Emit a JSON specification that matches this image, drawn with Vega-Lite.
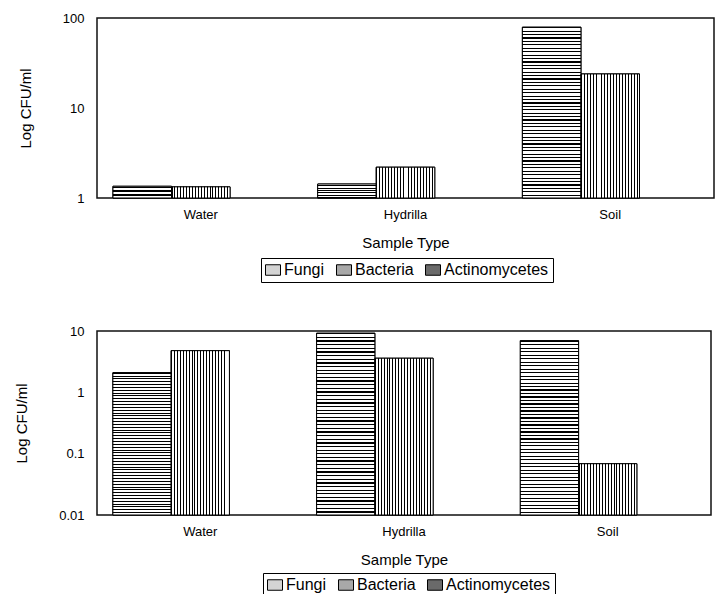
{
  "$schema": "https://vega.github.io/schema/vega-lite/v6.json",
  "padding": {"top": 11, "left": 13, "right": 0, "bottom": 0},
  "background": "white",
  "spacing": 40,
  "datasets": {
    "top": [
      {"Sample": "Water", "Type": "Fungi", "Value": 1.35},
      {"Sample": "Water", "Type": "Bacteria", "Value": 1.33},
      {"Sample": "Hydrilla", "Type": "Fungi", "Value": 1.43},
      {"Sample": "Hydrilla", "Type": "Bacteria", "Value": 2.2},
      {"Sample": "Soil", "Type": "Fungi", "Value": 79},
      {"Sample": "Soil", "Type": "Bacteria", "Value": 23.9}
    ],
    "bottom": [
      {"Sample": "Water", "Type": "Fungi", "Value": 2.09},
      {"Sample": "Water", "Type": "Bacteria", "Value": 4.78},
      {"Sample": "Hydrilla", "Type": "Fungi", "Value": 9.2},
      {"Sample": "Hydrilla", "Type": "Bacteria", "Value": 3.6},
      {"Sample": "Soil", "Type": "Fungi", "Value": 6.95},
      {"Sample": "Soil", "Type": "Bacteria", "Value": 0.0686}
    ]
  },
  "vconcat": [
    {
      "data": {"name": "top"},
      "width": 617,
      "height": 180,
      "encoding": {
        "x": {"field": "Sample", "type": "nominal", "sort": ["Water", "Hydrilla", "Soil"], "scale": {"domain": ["Water", "Hydrilla", "Soil"], "paddingInner": 0.142, "paddingOuter": 0.078}, "axis": {"title": "Sample Type"}},
        "xOffset": {"field": "Type", "type": "nominal", "scale": {"domain": ["Fungi", "Bacteria", "Actinomycetes"], "paddingInner": 0, "paddingOuter": 0}},
        "y": {"field": "Value", "type": "quantitative", "scale": {"type": "log", "domain": [1, 100], "nice": false}, "axis": {"title": "Log CFU/ml", "values": [1, 10, 100], "format": "~g"}},
        "y2": {"datum": 1}
      },
      "layer": [
        {
          "mark": {"type": "bar", "stroke": "#000", "strokeWidth": 1},
          "encoding": {
            "fill": {"field": "Type", "type": "nominal", "scale": {"domain": ["Fungi", "Bacteria", "Actinomycetes"], "range": ["#d4d4d4", "#a8a8a8", "#6a6a6a"]},
              "legend": {"orient": "none", "legendX": 164, "legendY": 240, "direction": "horizontal", "title": null, "symbolStrokeColor": "#000", "symbolStrokeWidth": 1}}
          }
        },
        {
          "transform": [{"filter": "datum.Type === 'Fungi'"}],
          "mark": {"type": "bar", "stroke": "#000", "strokeWidth": 1, "fill": {"gradient": "linear", "x1": 0, "y1": 0, "x2": 0, "y2": 1, "stops": [
{"offset":0,"color":"#000"},{"offset":0.007,"color":"#000"},{"offset":0.007,"color":"#fff"},{"offset":0.02,"color":"#fff"},
{"offset":0.02,"color":"#000"},{"offset":0.027,"color":"#000"},{"offset":0.027,"color":"#fff"},{"offset":0.04,"color":"#fff"},
{"offset":0.04,"color":"#000"},{"offset":0.047,"color":"#000"},{"offset":0.047,"color":"#fff"},{"offset":0.06,"color":"#fff"},
{"offset":0.06,"color":"#000"},{"offset":0.067,"color":"#000"},{"offset":0.067,"color":"#fff"},{"offset":0.08,"color":"#fff"},
{"offset":0.08,"color":"#000"},{"offset":0.087,"color":"#000"},{"offset":0.087,"color":"#fff"},{"offset":0.1,"color":"#fff"},
{"offset":0.1,"color":"#000"},{"offset":0.107,"color":"#000"},{"offset":0.107,"color":"#fff"},{"offset":0.12,"color":"#fff"},
{"offset":0.12,"color":"#000"},{"offset":0.127,"color":"#000"},{"offset":0.127,"color":"#fff"},{"offset":0.14,"color":"#fff"},
{"offset":0.14,"color":"#000"},{"offset":0.147,"color":"#000"},{"offset":0.147,"color":"#fff"},{"offset":0.16,"color":"#fff"},
{"offset":0.16,"color":"#000"},{"offset":0.167,"color":"#000"},{"offset":0.167,"color":"#fff"},{"offset":0.18,"color":"#fff"},
{"offset":0.18,"color":"#000"},{"offset":0.187,"color":"#000"},{"offset":0.187,"color":"#fff"},{"offset":0.2,"color":"#fff"},
{"offset":0.2,"color":"#000"},{"offset":0.207,"color":"#000"},{"offset":0.207,"color":"#fff"},{"offset":0.22,"color":"#fff"},
{"offset":0.22,"color":"#000"},{"offset":0.227,"color":"#000"},{"offset":0.227,"color":"#fff"},{"offset":0.24,"color":"#fff"},
{"offset":0.24,"color":"#000"},{"offset":0.247,"color":"#000"},{"offset":0.247,"color":"#fff"},{"offset":0.26,"color":"#fff"},
{"offset":0.26,"color":"#000"},{"offset":0.267,"color":"#000"},{"offset":0.267,"color":"#fff"},{"offset":0.28,"color":"#fff"},
{"offset":0.28,"color":"#000"},{"offset":0.287,"color":"#000"},{"offset":0.287,"color":"#fff"},{"offset":0.3,"color":"#fff"},
{"offset":0.3,"color":"#000"},{"offset":0.307,"color":"#000"},{"offset":0.307,"color":"#fff"},{"offset":0.32,"color":"#fff"},
{"offset":0.32,"color":"#000"},{"offset":0.327,"color":"#000"},{"offset":0.327,"color":"#fff"},{"offset":0.34,"color":"#fff"},
{"offset":0.34,"color":"#000"},{"offset":0.347,"color":"#000"},{"offset":0.347,"color":"#fff"},{"offset":0.36,"color":"#fff"},
{"offset":0.36,"color":"#000"},{"offset":0.367,"color":"#000"},{"offset":0.367,"color":"#fff"},{"offset":0.38,"color":"#fff"},
{"offset":0.38,"color":"#000"},{"offset":0.387,"color":"#000"},{"offset":0.387,"color":"#fff"},{"offset":0.4,"color":"#fff"},
{"offset":0.4,"color":"#000"},{"offset":0.407,"color":"#000"},{"offset":0.407,"color":"#fff"},{"offset":0.42,"color":"#fff"},
{"offset":0.42,"color":"#000"},{"offset":0.427,"color":"#000"},{"offset":0.427,"color":"#fff"},{"offset":0.44,"color":"#fff"},
{"offset":0.44,"color":"#000"},{"offset":0.447,"color":"#000"},{"offset":0.447,"color":"#fff"},{"offset":0.46,"color":"#fff"},
{"offset":0.46,"color":"#000"},{"offset":0.467,"color":"#000"},{"offset":0.467,"color":"#fff"},{"offset":0.48,"color":"#fff"},
{"offset":0.48,"color":"#000"},{"offset":0.487,"color":"#000"},{"offset":0.487,"color":"#fff"},{"offset":0.5,"color":"#fff"},
{"offset":0.5,"color":"#000"},{"offset":0.507,"color":"#000"},{"offset":0.507,"color":"#fff"},{"offset":0.52,"color":"#fff"},
{"offset":0.52,"color":"#000"},{"offset":0.527,"color":"#000"},{"offset":0.527,"color":"#fff"},{"offset":0.54,"color":"#fff"},
{"offset":0.54,"color":"#000"},{"offset":0.547,"color":"#000"},{"offset":0.547,"color":"#fff"},{"offset":0.56,"color":"#fff"},
{"offset":0.56,"color":"#000"},{"offset":0.567,"color":"#000"},{"offset":0.567,"color":"#fff"},{"offset":0.58,"color":"#fff"},
{"offset":0.58,"color":"#000"},{"offset":0.587,"color":"#000"},{"offset":0.587,"color":"#fff"},{"offset":0.6,"color":"#fff"},
{"offset":0.6,"color":"#000"},{"offset":0.607,"color":"#000"},{"offset":0.607,"color":"#fff"},{"offset":0.62,"color":"#fff"},
{"offset":0.62,"color":"#000"},{"offset":0.627,"color":"#000"},{"offset":0.627,"color":"#fff"},{"offset":0.64,"color":"#fff"},
{"offset":0.64,"color":"#000"},{"offset":0.647,"color":"#000"},{"offset":0.647,"color":"#fff"},{"offset":0.66,"color":"#fff"},
{"offset":0.66,"color":"#000"},{"offset":0.667,"color":"#000"},{"offset":0.667,"color":"#fff"},{"offset":0.68,"color":"#fff"},
{"offset":0.68,"color":"#000"},{"offset":0.687,"color":"#000"},{"offset":0.687,"color":"#fff"},{"offset":0.7,"color":"#fff"},
{"offset":0.7,"color":"#000"},{"offset":0.707,"color":"#000"},{"offset":0.707,"color":"#fff"},{"offset":0.72,"color":"#fff"},
{"offset":0.72,"color":"#000"},{"offset":0.727,"color":"#000"},{"offset":0.727,"color":"#fff"},{"offset":0.74,"color":"#fff"},
{"offset":0.74,"color":"#000"},{"offset":0.747,"color":"#000"},{"offset":0.747,"color":"#fff"},{"offset":0.76,"color":"#fff"},
{"offset":0.76,"color":"#000"},{"offset":0.767,"color":"#000"},{"offset":0.767,"color":"#fff"},{"offset":0.78,"color":"#fff"},
{"offset":0.78,"color":"#000"},{"offset":0.787,"color":"#000"},{"offset":0.787,"color":"#fff"},{"offset":0.8,"color":"#fff"},
{"offset":0.8,"color":"#000"},{"offset":0.807,"color":"#000"},{"offset":0.807,"color":"#fff"},{"offset":0.82,"color":"#fff"},
{"offset":0.82,"color":"#000"},{"offset":0.827,"color":"#000"},{"offset":0.827,"color":"#fff"},{"offset":0.84,"color":"#fff"},
{"offset":0.84,"color":"#000"},{"offset":0.847,"color":"#000"},{"offset":0.847,"color":"#fff"},{"offset":0.86,"color":"#fff"},
{"offset":0.86,"color":"#000"},{"offset":0.867,"color":"#000"},{"offset":0.867,"color":"#fff"},{"offset":0.88,"color":"#fff"},
{"offset":0.88,"color":"#000"},{"offset":0.887,"color":"#000"},{"offset":0.887,"color":"#fff"},{"offset":0.9,"color":"#fff"},
{"offset":0.9,"color":"#000"},{"offset":0.907,"color":"#000"},{"offset":0.907,"color":"#fff"},{"offset":0.92,"color":"#fff"},
{"offset":0.92,"color":"#000"},{"offset":0.927,"color":"#000"},{"offset":0.927,"color":"#fff"},{"offset":0.94,"color":"#fff"},
{"offset":0.94,"color":"#000"},{"offset":0.947,"color":"#000"},{"offset":0.947,"color":"#fff"},{"offset":0.96,"color":"#fff"},
{"offset":0.96,"color":"#000"},{"offset":0.967,"color":"#000"},{"offset":0.967,"color":"#fff"},{"offset":0.98,"color":"#fff"},
{"offset":0.98,"color":"#000"},{"offset":0.987,"color":"#000"},{"offset":0.987,"color":"#fff"},{"offset":1,"color":"#fff"}
          ]}}
        },
        {
          "transform": [{"filter": "datum.Type === 'Bacteria'"}],
          "mark": {"type": "bar", "stroke": "#000", "strokeWidth": 1, "fill": {"gradient": "linear", "x1": 0, "y1": 0, "x2": 1, "y2": 0, "stops": [
{"offset":0,"color":"#000"},{"offset":0.017,"color":"#000"},{"offset":0.017,"color":"#fff"},{"offset":0.05,"color":"#fff"},
{"offset":0.05,"color":"#000"},{"offset":0.067,"color":"#000"},{"offset":0.067,"color":"#fff"},{"offset":0.1,"color":"#fff"},
{"offset":0.1,"color":"#000"},{"offset":0.117,"color":"#000"},{"offset":0.117,"color":"#fff"},{"offset":0.15,"color":"#fff"},
{"offset":0.15,"color":"#000"},{"offset":0.167,"color":"#000"},{"offset":0.167,"color":"#fff"},{"offset":0.2,"color":"#fff"},
{"offset":0.2,"color":"#000"},{"offset":0.217,"color":"#000"},{"offset":0.217,"color":"#fff"},{"offset":0.25,"color":"#fff"},
{"offset":0.25,"color":"#000"},{"offset":0.267,"color":"#000"},{"offset":0.267,"color":"#fff"},{"offset":0.3,"color":"#fff"},
{"offset":0.3,"color":"#000"},{"offset":0.317,"color":"#000"},{"offset":0.317,"color":"#fff"},{"offset":0.35,"color":"#fff"},
{"offset":0.35,"color":"#000"},{"offset":0.367,"color":"#000"},{"offset":0.367,"color":"#fff"},{"offset":0.4,"color":"#fff"},
{"offset":0.4,"color":"#000"},{"offset":0.417,"color":"#000"},{"offset":0.417,"color":"#fff"},{"offset":0.45,"color":"#fff"},
{"offset":0.45,"color":"#000"},{"offset":0.467,"color":"#000"},{"offset":0.467,"color":"#fff"},{"offset":0.5,"color":"#fff"},
{"offset":0.5,"color":"#000"},{"offset":0.517,"color":"#000"},{"offset":0.517,"color":"#fff"},{"offset":0.55,"color":"#fff"},
{"offset":0.55,"color":"#000"},{"offset":0.567,"color":"#000"},{"offset":0.567,"color":"#fff"},{"offset":0.6,"color":"#fff"},
{"offset":0.6,"color":"#000"},{"offset":0.617,"color":"#000"},{"offset":0.617,"color":"#fff"},{"offset":0.65,"color":"#fff"},
{"offset":0.65,"color":"#000"},{"offset":0.667,"color":"#000"},{"offset":0.667,"color":"#fff"},{"offset":0.7,"color":"#fff"},
{"offset":0.7,"color":"#000"},{"offset":0.717,"color":"#000"},{"offset":0.717,"color":"#fff"},{"offset":0.75,"color":"#fff"},
{"offset":0.75,"color":"#000"},{"offset":0.767,"color":"#000"},{"offset":0.767,"color":"#fff"},{"offset":0.8,"color":"#fff"},
{"offset":0.8,"color":"#000"},{"offset":0.817,"color":"#000"},{"offset":0.817,"color":"#fff"},{"offset":0.85,"color":"#fff"},
{"offset":0.85,"color":"#000"},{"offset":0.867,"color":"#000"},{"offset":0.867,"color":"#fff"},{"offset":0.9,"color":"#fff"},
{"offset":0.9,"color":"#000"},{"offset":0.917,"color":"#000"},{"offset":0.917,"color":"#fff"},{"offset":0.95,"color":"#fff"},
{"offset":0.95,"color":"#000"},{"offset":0.967,"color":"#000"},{"offset":0.967,"color":"#fff"},{"offset":1,"color":"#fff"}
          ]}}
        }
      ]
    },
    {
      "data": {"name": "bottom"},
      "width": 614,
      "height": 184,
      "encoding": {
        "x": {"field": "Sample", "type": "nominal", "sort": ["Water", "Hydrilla", "Soil"], "scale": {"domain": ["Water", "Hydrilla", "Soil"], "paddingInner": 0.142, "paddingOuter": 0.078}, "axis": {"title": "Sample Type"}},
        "xOffset": {"field": "Type", "type": "nominal", "scale": {"domain": ["Fungi", "Bacteria", "Actinomycetes"], "paddingInner": 0, "paddingOuter": 0}},
        "y": {"field": "Value", "type": "quantitative", "scale": {"type": "log", "domain": [0.01, 10], "nice": false}, "axis": {"title": "Log CFU/ml", "values": [0.01, 0.1, 1, 10], "format": "~g"}},
        "y2": {"datum": 0.01}
      },
      "layer": [
        {
          "mark": {"type": "bar", "stroke": "#000", "strokeWidth": 1},
          "encoding": {
            "fill": {"field": "Type", "type": "nominal", "scale": {"domain": ["Fungi", "Bacteria", "Actinomycetes"], "range": ["#d4d4d4", "#a8a8a8", "#6a6a6a"]},
              "legend": {"orient": "none", "legendX": 166, "legendY": 242, "direction": "horizontal", "title": null, "symbolStrokeColor": "#000", "symbolStrokeWidth": 1}}
          }
        },
        {
          "transform": [{"filter": "datum.Type === 'Fungi'"}],
          "mark": {"type": "bar", "stroke": "#000", "strokeWidth": 1, "fill": {"gradient": "linear", "x1": 0, "y1": 0, "x2": 0, "y2": 1, "stops": [
{"offset":0,"color":"#000"},{"offset":0.007,"color":"#000"},{"offset":0.007,"color":"#fff"},{"offset":0.02,"color":"#fff"},
{"offset":0.02,"color":"#000"},{"offset":0.027,"color":"#000"},{"offset":0.027,"color":"#fff"},{"offset":0.04,"color":"#fff"},
{"offset":0.04,"color":"#000"},{"offset":0.047,"color":"#000"},{"offset":0.047,"color":"#fff"},{"offset":0.06,"color":"#fff"},
{"offset":0.06,"color":"#000"},{"offset":0.067,"color":"#000"},{"offset":0.067,"color":"#fff"},{"offset":0.08,"color":"#fff"},
{"offset":0.08,"color":"#000"},{"offset":0.087,"color":"#000"},{"offset":0.087,"color":"#fff"},{"offset":0.1,"color":"#fff"},
{"offset":0.1,"color":"#000"},{"offset":0.107,"color":"#000"},{"offset":0.107,"color":"#fff"},{"offset":0.12,"color":"#fff"},
{"offset":0.12,"color":"#000"},{"offset":0.127,"color":"#000"},{"offset":0.127,"color":"#fff"},{"offset":0.14,"color":"#fff"},
{"offset":0.14,"color":"#000"},{"offset":0.147,"color":"#000"},{"offset":0.147,"color":"#fff"},{"offset":0.16,"color":"#fff"},
{"offset":0.16,"color":"#000"},{"offset":0.167,"color":"#000"},{"offset":0.167,"color":"#fff"},{"offset":0.18,"color":"#fff"},
{"offset":0.18,"color":"#000"},{"offset":0.187,"color":"#000"},{"offset":0.187,"color":"#fff"},{"offset":0.2,"color":"#fff"},
{"offset":0.2,"color":"#000"},{"offset":0.207,"color":"#000"},{"offset":0.207,"color":"#fff"},{"offset":0.22,"color":"#fff"},
{"offset":0.22,"color":"#000"},{"offset":0.227,"color":"#000"},{"offset":0.227,"color":"#fff"},{"offset":0.24,"color":"#fff"},
{"offset":0.24,"color":"#000"},{"offset":0.247,"color":"#000"},{"offset":0.247,"color":"#fff"},{"offset":0.26,"color":"#fff"},
{"offset":0.26,"color":"#000"},{"offset":0.267,"color":"#000"},{"offset":0.267,"color":"#fff"},{"offset":0.28,"color":"#fff"},
{"offset":0.28,"color":"#000"},{"offset":0.287,"color":"#000"},{"offset":0.287,"color":"#fff"},{"offset":0.3,"color":"#fff"},
{"offset":0.3,"color":"#000"},{"offset":0.307,"color":"#000"},{"offset":0.307,"color":"#fff"},{"offset":0.32,"color":"#fff"},
{"offset":0.32,"color":"#000"},{"offset":0.327,"color":"#000"},{"offset":0.327,"color":"#fff"},{"offset":0.34,"color":"#fff"},
{"offset":0.34,"color":"#000"},{"offset":0.347,"color":"#000"},{"offset":0.347,"color":"#fff"},{"offset":0.36,"color":"#fff"},
{"offset":0.36,"color":"#000"},{"offset":0.367,"color":"#000"},{"offset":0.367,"color":"#fff"},{"offset":0.38,"color":"#fff"},
{"offset":0.38,"color":"#000"},{"offset":0.387,"color":"#000"},{"offset":0.387,"color":"#fff"},{"offset":0.4,"color":"#fff"},
{"offset":0.4,"color":"#000"},{"offset":0.407,"color":"#000"},{"offset":0.407,"color":"#fff"},{"offset":0.42,"color":"#fff"},
{"offset":0.42,"color":"#000"},{"offset":0.427,"color":"#000"},{"offset":0.427,"color":"#fff"},{"offset":0.44,"color":"#fff"},
{"offset":0.44,"color":"#000"},{"offset":0.447,"color":"#000"},{"offset":0.447,"color":"#fff"},{"offset":0.46,"color":"#fff"},
{"offset":0.46,"color":"#000"},{"offset":0.467,"color":"#000"},{"offset":0.467,"color":"#fff"},{"offset":0.48,"color":"#fff"},
{"offset":0.48,"color":"#000"},{"offset":0.487,"color":"#000"},{"offset":0.487,"color":"#fff"},{"offset":0.5,"color":"#fff"},
{"offset":0.5,"color":"#000"},{"offset":0.507,"color":"#000"},{"offset":0.507,"color":"#fff"},{"offset":0.52,"color":"#fff"},
{"offset":0.52,"color":"#000"},{"offset":0.527,"color":"#000"},{"offset":0.527,"color":"#fff"},{"offset":0.54,"color":"#fff"},
{"offset":0.54,"color":"#000"},{"offset":0.547,"color":"#000"},{"offset":0.547,"color":"#fff"},{"offset":0.56,"color":"#fff"},
{"offset":0.56,"color":"#000"},{"offset":0.567,"color":"#000"},{"offset":0.567,"color":"#fff"},{"offset":0.58,"color":"#fff"},
{"offset":0.58,"color":"#000"},{"offset":0.587,"color":"#000"},{"offset":0.587,"color":"#fff"},{"offset":0.6,"color":"#fff"},
{"offset":0.6,"color":"#000"},{"offset":0.607,"color":"#000"},{"offset":0.607,"color":"#fff"},{"offset":0.62,"color":"#fff"},
{"offset":0.62,"color":"#000"},{"offset":0.627,"color":"#000"},{"offset":0.627,"color":"#fff"},{"offset":0.64,"color":"#fff"},
{"offset":0.64,"color":"#000"},{"offset":0.647,"color":"#000"},{"offset":0.647,"color":"#fff"},{"offset":0.66,"color":"#fff"},
{"offset":0.66,"color":"#000"},{"offset":0.667,"color":"#000"},{"offset":0.667,"color":"#fff"},{"offset":0.68,"color":"#fff"},
{"offset":0.68,"color":"#000"},{"offset":0.687,"color":"#000"},{"offset":0.687,"color":"#fff"},{"offset":0.7,"color":"#fff"},
{"offset":0.7,"color":"#000"},{"offset":0.707,"color":"#000"},{"offset":0.707,"color":"#fff"},{"offset":0.72,"color":"#fff"},
{"offset":0.72,"color":"#000"},{"offset":0.727,"color":"#000"},{"offset":0.727,"color":"#fff"},{"offset":0.74,"color":"#fff"},
{"offset":0.74,"color":"#000"},{"offset":0.747,"color":"#000"},{"offset":0.747,"color":"#fff"},{"offset":0.76,"color":"#fff"},
{"offset":0.76,"color":"#000"},{"offset":0.767,"color":"#000"},{"offset":0.767,"color":"#fff"},{"offset":0.78,"color":"#fff"},
{"offset":0.78,"color":"#000"},{"offset":0.787,"color":"#000"},{"offset":0.787,"color":"#fff"},{"offset":0.8,"color":"#fff"},
{"offset":0.8,"color":"#000"},{"offset":0.807,"color":"#000"},{"offset":0.807,"color":"#fff"},{"offset":0.82,"color":"#fff"},
{"offset":0.82,"color":"#000"},{"offset":0.827,"color":"#000"},{"offset":0.827,"color":"#fff"},{"offset":0.84,"color":"#fff"},
{"offset":0.84,"color":"#000"},{"offset":0.847,"color":"#000"},{"offset":0.847,"color":"#fff"},{"offset":0.86,"color":"#fff"},
{"offset":0.86,"color":"#000"},{"offset":0.867,"color":"#000"},{"offset":0.867,"color":"#fff"},{"offset":0.88,"color":"#fff"},
{"offset":0.88,"color":"#000"},{"offset":0.887,"color":"#000"},{"offset":0.887,"color":"#fff"},{"offset":0.9,"color":"#fff"},
{"offset":0.9,"color":"#000"},{"offset":0.907,"color":"#000"},{"offset":0.907,"color":"#fff"},{"offset":0.92,"color":"#fff"},
{"offset":0.92,"color":"#000"},{"offset":0.927,"color":"#000"},{"offset":0.927,"color":"#fff"},{"offset":0.94,"color":"#fff"},
{"offset":0.94,"color":"#000"},{"offset":0.947,"color":"#000"},{"offset":0.947,"color":"#fff"},{"offset":0.96,"color":"#fff"},
{"offset":0.96,"color":"#000"},{"offset":0.967,"color":"#000"},{"offset":0.967,"color":"#fff"},{"offset":0.98,"color":"#fff"},
{"offset":0.98,"color":"#000"},{"offset":0.987,"color":"#000"},{"offset":0.987,"color":"#fff"},{"offset":1,"color":"#fff"}
          ]}}
        },
        {
          "transform": [{"filter": "datum.Type === 'Bacteria'"}],
          "mark": {"type": "bar", "stroke": "#000", "strokeWidth": 1, "fill": {"gradient": "linear", "x1": 0, "y1": 0, "x2": 1, "y2": 0, "stops": [
{"offset":0,"color":"#000"},{"offset":0.017,"color":"#000"},{"offset":0.017,"color":"#fff"},{"offset":0.05,"color":"#fff"},
{"offset":0.05,"color":"#000"},{"offset":0.067,"color":"#000"},{"offset":0.067,"color":"#fff"},{"offset":0.1,"color":"#fff"},
{"offset":0.1,"color":"#000"},{"offset":0.117,"color":"#000"},{"offset":0.117,"color":"#fff"},{"offset":0.15,"color":"#fff"},
{"offset":0.15,"color":"#000"},{"offset":0.167,"color":"#000"},{"offset":0.167,"color":"#fff"},{"offset":0.2,"color":"#fff"},
{"offset":0.2,"color":"#000"},{"offset":0.217,"color":"#000"},{"offset":0.217,"color":"#fff"},{"offset":0.25,"color":"#fff"},
{"offset":0.25,"color":"#000"},{"offset":0.267,"color":"#000"},{"offset":0.267,"color":"#fff"},{"offset":0.3,"color":"#fff"},
{"offset":0.3,"color":"#000"},{"offset":0.317,"color":"#000"},{"offset":0.317,"color":"#fff"},{"offset":0.35,"color":"#fff"},
{"offset":0.35,"color":"#000"},{"offset":0.367,"color":"#000"},{"offset":0.367,"color":"#fff"},{"offset":0.4,"color":"#fff"},
{"offset":0.4,"color":"#000"},{"offset":0.417,"color":"#000"},{"offset":0.417,"color":"#fff"},{"offset":0.45,"color":"#fff"},
{"offset":0.45,"color":"#000"},{"offset":0.467,"color":"#000"},{"offset":0.467,"color":"#fff"},{"offset":0.5,"color":"#fff"},
{"offset":0.5,"color":"#000"},{"offset":0.517,"color":"#000"},{"offset":0.517,"color":"#fff"},{"offset":0.55,"color":"#fff"},
{"offset":0.55,"color":"#000"},{"offset":0.567,"color":"#000"},{"offset":0.567,"color":"#fff"},{"offset":0.6,"color":"#fff"},
{"offset":0.6,"color":"#000"},{"offset":0.617,"color":"#000"},{"offset":0.617,"color":"#fff"},{"offset":0.65,"color":"#fff"},
{"offset":0.65,"color":"#000"},{"offset":0.667,"color":"#000"},{"offset":0.667,"color":"#fff"},{"offset":0.7,"color":"#fff"},
{"offset":0.7,"color":"#000"},{"offset":0.717,"color":"#000"},{"offset":0.717,"color":"#fff"},{"offset":0.75,"color":"#fff"},
{"offset":0.75,"color":"#000"},{"offset":0.767,"color":"#000"},{"offset":0.767,"color":"#fff"},{"offset":0.8,"color":"#fff"},
{"offset":0.8,"color":"#000"},{"offset":0.817,"color":"#000"},{"offset":0.817,"color":"#fff"},{"offset":0.85,"color":"#fff"},
{"offset":0.85,"color":"#000"},{"offset":0.867,"color":"#000"},{"offset":0.867,"color":"#fff"},{"offset":0.9,"color":"#fff"},
{"offset":0.9,"color":"#000"},{"offset":0.917,"color":"#000"},{"offset":0.917,"color":"#fff"},{"offset":0.95,"color":"#fff"},
{"offset":0.95,"color":"#000"},{"offset":0.967,"color":"#000"},{"offset":0.967,"color":"#fff"},{"offset":1,"color":"#fff"}
          ]}}
        }
      ]
    }
  ],
  "resolve": {
    "scale": {"x": "independent", "y": "independent", "xOffset": "independent", "fill": "independent"},
    "legend": {"fill": "independent"}
  },
  "config": {
    "font": "Liberation Sans",
    "view": {"stroke": "#111", "strokeWidth": 1.5},
    "axis": {"grid": false, "ticks": false, "domain": false, "labelFontSize": 13, "titleFontSize": 15, "titleFontWeight": "normal", "labelColor": "#000", "titleColor": "#000", "labelFont": "Liberation Sans", "titleFont": "Liberation Sans"},
    "axisX": {"labelAngle": 0, "labelPadding": 10, "titlePadding": 14},
    "axisY": {"labelPadding": 13, "titlePadding": 29},
    "legend": {"strokeColor": "#000", "padding": 4, "labelFontSize": 16, "labelColor": "#000", "labelFont": "Liberation Sans", "symbolType": "M-1,-0.7H1V0.7H-1Z", "symbolSize": 225, "symbolStrokeColor": "#000", "symbolStrokeWidth": 1, "labelOffset": 3, "columnPadding": 9, "symbolOpacity": 1}
  }
}
